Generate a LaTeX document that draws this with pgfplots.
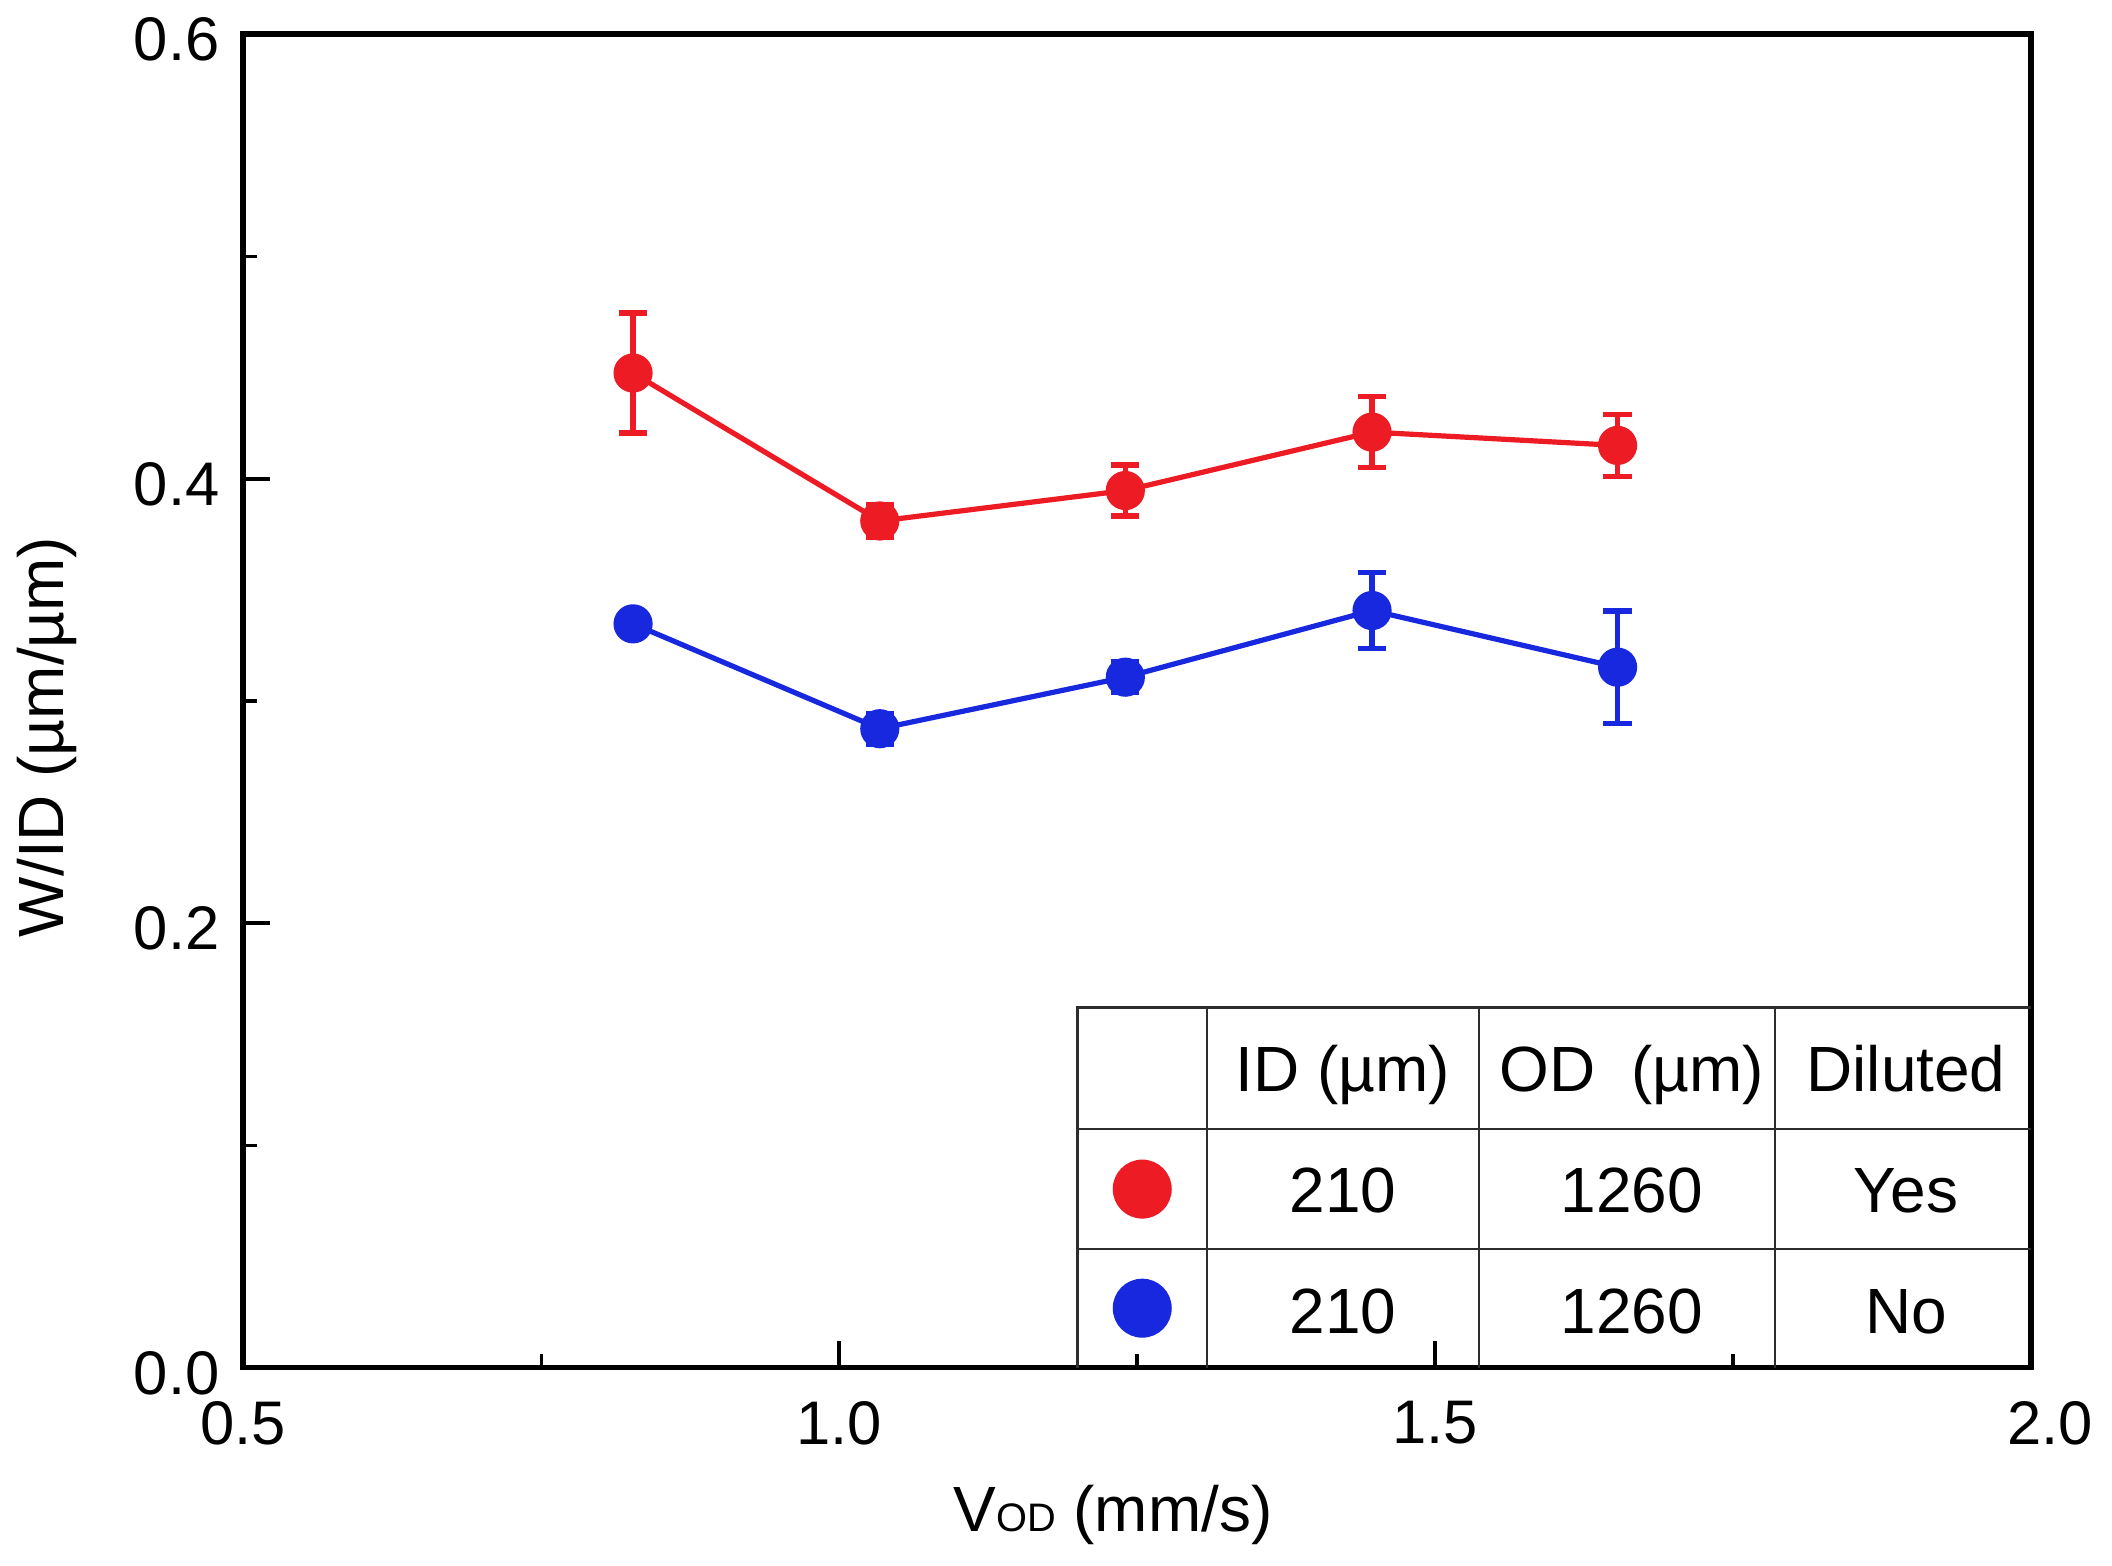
\documentclass[border=0pt]{standalone}
\usepackage{fontspec}
\setmainfont{Liberation Sans}
\usepackage{pgfplots}
\pgfplotsset{compat=1.18}
\definecolor{myred}{RGB}{237,28,36}
\definecolor{myblue}{RGB}{24,40,222}
\definecolor{tabline}{RGB}{45,45,45}
\newcommand{\tabfont}{\fontsize{13.5}{16}\selectfont}
\begin{document}
\begin{tikzpicture}
\useasboundingbox (-18.06mm,-14.7mm) rectangle (138.7mm,101.5mm);
\begin{axis}[
  scale only axis,
  width=132.7mm, height=98.95mm,
  xmin=0.5, xmax=2, ymin=0, ymax=0.6,
  xtick={0.5,1,1.5,2},
  xticklabels={0.5,1.0,1.5,\hspace*{2.8mm}2.0},
  ytick={0,0.2,0.4,0.6},
  yticklabels={0.0,0.2,0.4,0.6},
  minor x tick num=1, minor y tick num=1,
  tick pos=left,
  tick align=inside,
  major tick length=2mm, minor tick length=1mm,
  every tick/.style={black, line width=0.75pt},
  axis line style={line width=1.25pt},
  tick label style={font=\fontsize{13}{15}\selectfont},
  xticklabel style={yshift=-1.27mm},
  yticklabel style={xshift=-0.53mm, yshift=-0.4mm},
  label style={font=\fontsize{13.5}{16}\selectfont},
  xlabel={V{\fontsize{8.4}{10}\selectfont OD} (mm/s)},
  xlabel style={at={(axis description cs:0.4864,0)}, anchor=base, yshift=-12.2mm},
  ylabel={W/ID (µm/µm)},
  ylabel style={at={([xshift=-13.36mm]axis description cs:0,0.473)}, anchor=base},
  clip=false,
]
% Red series (diluted)
\addplot[myred, line width=1.1pt, mark=*, mark size=1.26mm,
  mark options={solid, fill=myred, draw=myred},
  error bars/.cd, y dir=both, y explicit,
  error bar style={line width=1.1pt, myred},
  error mark options={line width=1.1pt, myred, mark size=1.05mm, rotate=90}]
  coordinates {
  (0.827,0.4476) +- (0,0.027)
  (1.034,0.3810) +- (0,0.0075)
  (1.240,0.3947) +- (0,0.0115)
  (1.447,0.4210) +- (0,0.016)
  (1.653,0.4150) +- (0,0.014)
  };
% Blue series (not diluted)
\addplot[myblue, line width=1.1pt, mark=*, mark size=1.26mm,
  mark options={solid, fill=myblue, draw=myblue},
  error bars/.cd, y dir=both, y explicit,
  error bar style={line width=1.1pt, myblue},
  error mark options={line width=1.1pt, myblue, mark size=1.05mm, rotate=90}]
  coordinates {
  (0.827,0.3347) +- (0,0)
  (1.034,0.2875) +- (0,0.007)
  (1.240,0.3107) +- (0,0.007)
  (1.447,0.3407) +- (0,0.017)
  (1.653,0.3152) +- (0,0.0253)
  };
% Table
\draw[tabline, line width=0.55pt] (axis cs:1.2,0) -- (axis cs:1.2,0.1619) -- (axis cs:2,0.1619);
\draw[tabline, line width=0.55pt] (axis cs:1.2,0.1073) -- (axis cs:2,0.1073);
\draw[tabline, line width=0.55pt] (axis cs:1.2,0.0534) -- (axis cs:2,0.0534);
\draw[tabline, line width=0.55pt] (axis cs:1.3084,0) -- (axis cs:1.3084,0.1619);
\draw[tabline, line width=0.55pt] (axis cs:1.5366,0) -- (axis cs:1.5366,0.1619);
\draw[tabline, line width=0.55pt] (axis cs:1.7852,0) -- (axis cs:1.7852,0.1619);
\addplot[only marks, mark=*, mark size=2.12mm, color=myred, forget plot] coordinates {(1.2542,0.0803)};
\addplot[only marks, mark=*, mark size=2.12mm, color=myblue, forget plot] coordinates {(1.2542,0.0267)};
\node[anchor=base, font=\tabfont] at (axis cs:1.4225,0.1243) {ID (µm)};
\node[anchor=base, font=\tabfont] at (axis cs:1.6650,0.1243) {OD\ \ (µm)};
\node[anchor=base, font=\tabfont] at (axis cs:1.8950,0.1243) {Diluted};
\node[anchor=base, font=\tabfont] at (axis cs:1.4225,0.0697) {210};
\node[anchor=base, font=\tabfont] at (axis cs:1.6650,0.0697) {1260};
\node[anchor=base, font=\tabfont] at (axis cs:1.8950,0.0697) {Yes};
\node[anchor=base, font=\tabfont] at (axis cs:1.4225,0.0155) {210};
\node[anchor=base, font=\tabfont] at (axis cs:1.6650,0.0155) {1260};
\node[anchor=base, font=\tabfont] at (axis cs:1.8950,0.0155) {No};
\end{axis}
\end{tikzpicture}
\end{document}
